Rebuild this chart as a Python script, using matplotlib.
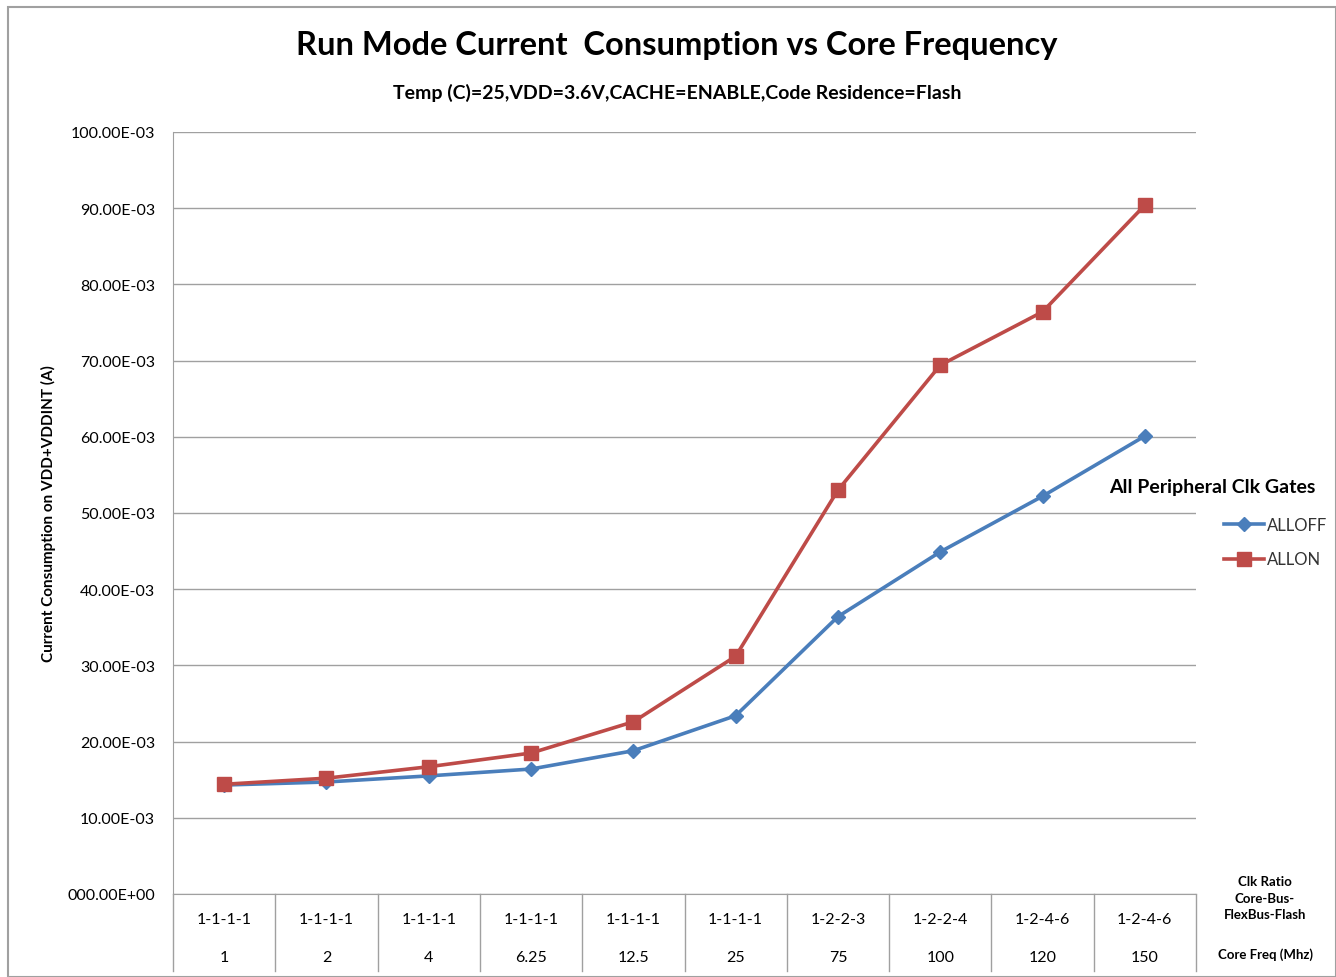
import matplotlib.pyplot as plt
from matplotlib.lines import Line2D
from matplotlib.patches import Rectangle

clk_ratio = ["1-1-1-1", "1-1-1-1", "1-1-1-1", "1-1-1-1", "1-1-1-1",
             "1-1-1-1", "1-2-2-3", "1-2-2-4", "1-2-4-6", "1-2-4-6"]
core_freq = ["1", "2", "4", "6.25", "12.5", "25", "75", "100", "120", "150"]
all_off = [14.3e-3, 14.7e-3, 15.5e-3, 16.4e-3, 18.8e-3, 23.4e-3, 36.4e-3, 44.9e-3, 52.2e-3, 60.1e-3]
all_on = [14.4e-3, 15.2e-3, 16.7e-3, 18.5e-3, 22.6e-3, 31.2e-3, 53.0e-3, 69.4e-3, 76.4e-3, 90.4e-3]
y_ticks = [i * 10e-3 for i in range(11)]
y_labels = ["000.00E+00"] + [f"{i*10}.00E-03" for i in range(1, 11)]

BLUE = "#4A7EBB"
RED = "#BE4B48"
GRID = "#a0a0a0"
plt.rcParams["font.family"] = ["Lato", "DejaVu Sans"]

fig = plt.figure(figsize=(13.36, 9.78), dpi=100)
W, H = 1336, 978
ax = fig.add_axes([173 / W, 1 - 895 / H, (1196 - 173) / W, (895 - 133) / H])

x = list(range(len(core_freq)))
ax.plot(x, all_off, color=BLUE, lw=2.6, marker="D", ms=7, label="ALLOFF")
ax.plot(x, all_on, color=RED, lw=2.6, marker="s", ms=9.5, label="ALLON")

ax.set_xlim(-0.5, len(x) - 0.5)
ax.set_ylim(0, 100e-3)
ax.set_yticks(y_ticks)
ax.set_yticklabels(y_labels, fontsize=11.5)
ax.tick_params(axis="y", length=0, pad=13)
ax.set_xticks([])
ax.grid(axis="y", color=GRID, lw=1)
ax.set_axisbelow(True)
for s in ["top", "right"]:
    ax.spines[s].set_visible(False)
ax.spines["left"].set_color(GRID)
ax.spines["bottom"].set_color(GRID)

ax.set_ylabel("Current Consumption on VDD+VDDINT (A)", fontsize=11, fontweight="bold", labelpad=8)

# multi-level category axis below plot
trans = ax.get_xaxis_transform()
for b in range(len(x) + 1):
    ax.add_line(Line2D([b - 0.5, b - 0.5], [0, -77 / 762], transform=trans,
                       color=GRID, lw=1, clip_on=False))
for i in x:
    ax.text(i, -25 / 762, clk_ratio[i], transform=trans, ha="center", va="center", fontsize=11.5)
    ax.text(i, -63 / 762, core_freq[i], transform=trans, ha="center", va="center", fontsize=11.5)

fig.text(1265 / W, 1 - 899 / H, "Clk Ratio\nCore-Bus-\nFlexBus-Flash", ha="center", va="center",
         fontsize=9.5, fontweight="bold", linespacing=1.45)
fig.text(1265 / W, 1 - 955 / H, "Core Freq (Mhz)", ha="center", va="center",
         fontsize=9.5, fontweight="bold")

fig.text(677 / W, 1 - 46 / H, "Run Mode Current  Consumption vs Core Frequency", ha="center", va="center",
         fontsize=23.5, fontweight="bold")
fig.text(677 / W, 1 - 93 / H, "Temp (C)=25,VDD=3.6V,CACHE=ENABLE,Code Residence=Flash", ha="center", va="center",
         fontsize=14, fontweight="bold")

# legend
fig.text(1212 / W, 1 - 488 / H, "All Peripheral Clk Gates", ha="center", va="center",
         fontsize=14, fontweight="bold")
leg = fig.legend(loc="upper left", bbox_to_anchor=(1224 / W, 1 - 518 / H), frameon=False,
                 fontsize=12, handlelength=2.4, handletextpad=0.15, labelspacing=1.1,
                 borderaxespad=0, borderpad=0)
for t in leg.get_texts():
    t.set_color("#333333")

fig.patches.append(Rectangle((8 / W, 0), 1 - 8 / W, 1 - 8 / H, transform=fig.transFigure,
                             fill=False, edgecolor="#a0a0a0", lw=1.5))

fig.savefig("out.png", dpi=100)
